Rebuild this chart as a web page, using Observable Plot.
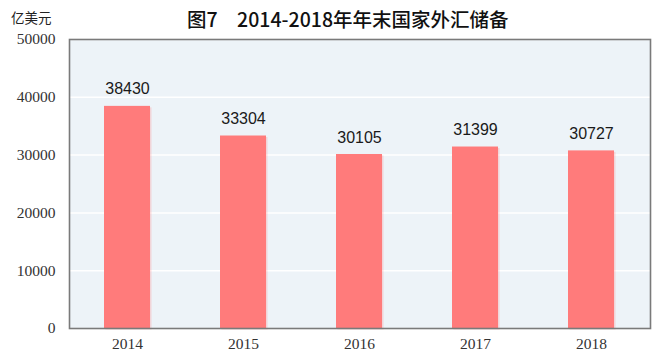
<!DOCTYPE html>
<html>
<head>
<meta charset="utf-8">
<script src="https://cdn.jsdelivr.net/npm/d3@7"></script>
<script src="https://cdn.jsdelivr.net/npm/@observablehq/plot@0.6"></script>
<style>
  html, body { margin: 0; padding: 0; background: #fff; }
  #wrap { position: relative; width: 657px; height: 356px; overflow: hidden; }
  #title { position: absolute; left: 187px; top: 4px; white-space: nowrap;
    font-family: "Noto Sans CJK SC", "Liberation Sans", sans-serif; font-size: 19.5px; font-weight: 500; color: #111; }
  #unit { position: absolute; left: 11px; top: 7px; font-family: "Noto Sans CJK SC", sans-serif; font-size: 13.5px; color: #222; }
  #chart { position: absolute; left: 0; top: 0; }
</style>
</head>
<body>
<div id="wrap">
  <div id="chart"></div>
  <div id="title">图7　2014-2018年年末国家外汇储备</div>
  <div id="unit">亿美元</div>
</div>
<script>
const years = ["2014", "2015", "2016", "2017", "2018"];
const reserves = [38430, 33304, 30105, 31399, 30727];
const yTicks = [0, 10000, 20000, 30000, 40000, 50000];

const data = years.map((y, i) => ({year: y, value: reserves[i]}));

const chart = Plot.plot({
  width: 657,
  height: 356,
  marginTop: 39,
  marginBottom: 28,
  marginLeft: 69,
  marginRight: 7,
  style: {background: "transparent", overflow: "visible"},
  x: {domain: years, paddingInner: 0.6, paddingOuter: 0.3, label: null},
  y: {domain: [0, 50000], label: null},
  marks: [
    Plot.frame({fill: "#edf3f8", stroke: null}),
    Plot.gridY(yTicks, {stroke: "#ffffff", strokeOpacity: 1, strokeWidth: 1.5}),
    Plot.barY(data, {x: "year", y: "value", fill: "#ff7b7b", dx: 1.5, dy: 1.5, fillOpacity: 0.25}),
    Plot.barY(data, {x: "year", y: "value", fill: "#ff7b7b"}),
    Plot.text(data, {x: "year", y: "value", text: d => String(d.value), dy: -17, fontSize: 16,
      fontFamily: "Liberation Sans, Arial, sans-serif", fill: "#1a1a1a"}),
    Plot.axisY(yTicks, {tickSize: 0, tickPadding: 14, fontSize: 15.5, tickFormat: d => String(d),
      fontFamily: "Liberation Serif, serif", fill: "#333", label: null}),
    Plot.axisX({tickSize: 0, tickPadding: 9, fontSize: 15.5, fontFamily: "Liberation Serif, serif", fill: "#333", label: null}),
    Plot.frame({stroke: "#7a7a7a", strokeWidth: 1.6, fill: null})
  ]
});
document.getElementById("chart").appendChild(chart);
</script>
</body>
</html>
